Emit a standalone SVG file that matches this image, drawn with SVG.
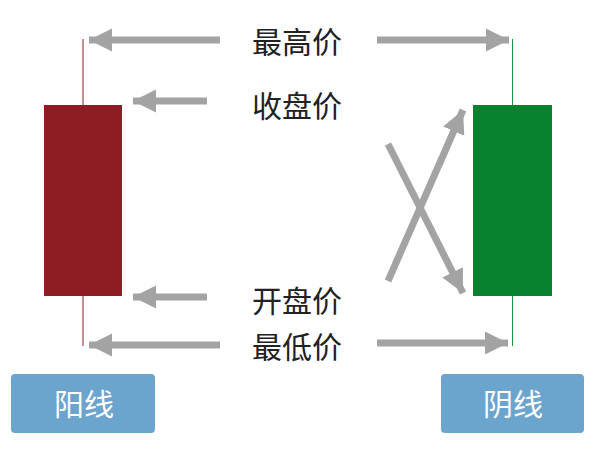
<svg xmlns="http://www.w3.org/2000/svg" width="596" height="449" viewBox="0 0 596 449">
<style>
.lbl{font-family:"Noto Sans CJK SC","Noto Sans",sans-serif;font-size:30px;fill:#222;text-anchor:middle}
.btn{font-family:"Noto Sans CJK SC","Noto Sans",sans-serif;font-size:30px;fill:#fff;text-anchor:middle}
.arr{stroke:#a3a3a3;stroke-width:7;fill:none}
.box{fill:#6ba4cd}
</style>
<defs>
<marker id="ah" viewBox="0 0 10 10" refX="10" refY="5" markerWidth="3.3" markerHeight="3.3" markerUnits="strokeWidth" orient="auto">
<path d="M0,0 L10,5 L0,10 Z" fill="#a3a3a3"/>
</marker>
</defs>
<rect width="596" height="449" fill="#fff"/>
<g id="yang-candle">
<line x1="83" y1="39" x2="83" y2="346" stroke="#8c1c22" stroke-width="1"/>
<rect x="44" y="105" width="78" height="191" fill="#8e1d23"/>
</g>
<g id="yin-candle">
<line x1="512.5" y1="39" x2="512.5" y2="346" stroke="#1a9a40" stroke-width="1"/>
<rect x="473" y="105" width="79" height="191" fill="#09812f"/>
</g>
<g id="connectors">
<line class="arr" x1="220" y1="40" x2="89" y2="40" marker-end="url(#ah)"/>
<line class="arr" x1="377" y1="40" x2="509" y2="40" marker-end="url(#ah)"/>
<line class="arr" x1="207" y1="101" x2="133" y2="101" marker-end="url(#ah)"/>
<line class="arr" x1="207" y1="297" x2="133" y2="297" marker-end="url(#ah)"/>
<line class="arr" x1="220" y1="345" x2="89" y2="345" marker-end="url(#ah)"/>
<line class="arr" x1="377" y1="343" x2="508" y2="343" marker-end="url(#ah)"/>
<line class="arr" x1="388" y1="281" x2="463" y2="110" marker-end="url(#ah)"/>
<line class="arr" x1="388" y1="144" x2="463" y2="293" marker-end="url(#ah)"/>
</g>
<g id="label-high"><text class="lbl" x="297" y="53">最高价</text></g>
<g id="label-close"><text class="lbl" x="297" y="117">收盘价</text></g>
<g id="label-open"><text class="lbl" x="297" y="312">开盘价</text></g>
<g id="label-low"><text class="lbl" x="297" y="358">最低价</text></g>
<g id="btn-yang">
<rect class="box" x="11" y="374" width="144" height="59" rx="4"/>
<text class="btn" x="84" y="415">阳线</text>
</g>
<g id="btn-yin">
<rect class="box" x="441" y="374" width="143" height="59" rx="4"/>
<text class="btn" x="513" y="415">阴线</text>
</g>
</svg>
